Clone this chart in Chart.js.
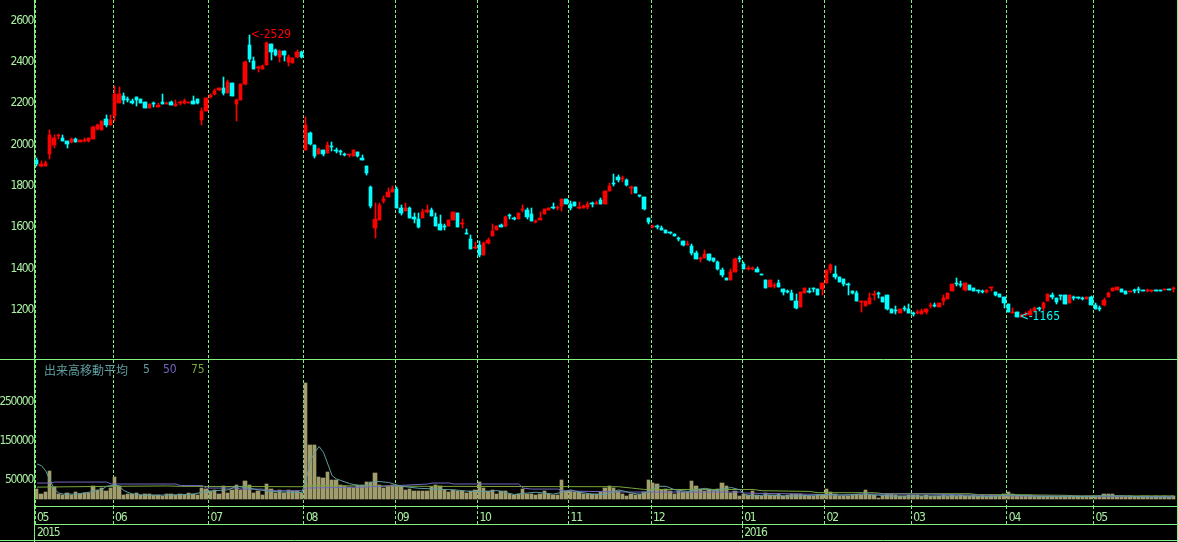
<!DOCTYPE html>
<html>
<head>
<meta charset="utf-8">
<script src="https://cdn.jsdelivr.net/npm/chart.js@4.4.0/dist/chart.umd.min.js"></script>
<style>
  html, body { margin: 0; padding: 0; background: #000; }
  #wrap { width: 1178px; height: 542px; }
</style>
</head>
<body>
<div id="wrap"><canvas id="kabuka" width="1178" height="542"></canvas></div>
<script>
// values (daily candles, May 2015 - May 2016)
const monthLabels = ['05', '06', '07', '08', '09', '10', '11', '12', '01', '02', '03', '04', '05'];
const monthStart = [0, 18, 40, 62, 83, 102, 123, 142, 163, 182, 202, 224, 244];
const yearLabels = ['2015', '2016'];
const yearStart = [0, 163];
const priceTicks = [1200, 1400, 1600, 1800, 2000, 2200, 2400, 2600];
const volumeTicks = [50000, 150000, 250000];
const maPeriods = [5, 50, 75];

const open = [
  1926,1898,1897,1955,1998,2040,2034,2018,2011,2029,2014,2016,2016,2029,2074,2072,2124,2095,
  2140,2203,2236,2222,2213,2231,2221,2206,2179,2197,2184,2206,2198,2206,2189,2200,2200,2201,2213,2221,2119,2165,
  2230,2245,2264,2274,2248,2298,2198,2216,2294,2481,2406,2370,2366,2385,2487,2458,2424,2453,2398,2397,2422,2450,
  1974,2058,1999,1955,1974,1961,1995,1972,1966,1950,1948,1947,1963,1935,1897,1797,1599,1637,1726,1747,1771,
  1786,1695,1679,1694,1648,1640,1647,1673,1684,1650,1616,1605,1606,1636,1669,1616,1571,1542,1500,
  1515,1466,1523,1558,1587,1611,1606,1655,1644,1640,1682,1682,1665,1627,1637,1665,1686,1694,1692,1703,1737,
  1713,1724,1693,1692,1698,1713,1711,1734,1714,1776,1813,1845,1834,1829,1788,1795,1752,1747,1645,
  1603,1605,1598,1587,1574,1568,1545,1534,1517,1510,1474,1447,1452,1469,1452,1432,1394,1355,1347,1386,1447,
  1421,1397,1398,1398,1374,1345,1311,1315,1331,1300,1289,1281,1244,1215,1284,1287,1305,1302,1300,
  1332,1394,1374,1361,1348,1323,1292,1284,1239,1219,1227,1271,1281,1261,1273,1205,1199,1187,1206,1203,
  1182,1184,1182,1192,1220,1222,1215,1245,1253,1294,1330,1324,1297,1321,1308,1293,1290,1289,1305,1286,1277,1264,
  1229,1185,1192,1168,1175,1176,1197,1206,1211,1243,1274,1258,1272,1272,1235,1261,1258,1256,1253,1263,
  1222,1209,1224,1261,1294,1297,1300,1290,1287,1293,1297,1294,1291,1293,1295,1296,1297,1301,1300
];
const high = [
  1935,1922,1922,2071,2047,2050,2047,2018,2031,2034,2024,2034,2034,2090,2098,2114,2143,2142,
  2284,2277,2250,2230,2219,2231,2221,2206,2197,2206,2200,2245,2206,2211,2218,2211,2219,2208,2235,2221,2177,2226,
  2247,2268,2274,2327,2313,2298,2219,2294,2406,2529,2426,2380,2387,2495,2487,2465,2460,2453,2434,2421,2460,2453,
  2136,2061,1999,1984,1974,2011,2013,1982,1973,1961,1951,1974,1966,1948,1897,1800,1718,1718,1752,1790,1800,
  1794,1708,1718,1697,1668,1671,1690,1708,1694,1669,1660,1616,1636,1674,1669,1639,1592,1563,1527,
  1532,1527,1550,1616,1606,1616,1653,1665,1652,1669,1708,1694,1694,1636,1674,1689,1695,1716,1703,1735,1737,
  1726,1724,1724,1710,1721,1724,1727,1743,1776,1815,1858,1853,1848,1832,1800,1795,1756,1747,1645,
  1611,1611,1606,1587,1579,1568,1553,1534,1534,1519,1484,1458,1490,1469,1452,1437,1402,1355,1398,1450,1461,
  1434,1413,1410,1406,1374,1345,1345,1329,1345,1300,1297,1297,1276,1289,1305,1305,1305,1302,1331,
  1394,1423,1413,1361,1352,1331,1292,1292,1244,1244,1282,1292,1286,1261,1273,1205,1219,1205,1219,1229,
  1192,1200,1203,1205,1232,1232,1232,1273,1284,1326,1355,1340,1329,1321,1308,1297,1297,1297,1313,1286,1277,1264,
  1229,1208,1192,1183,1190,1203,1216,1216,1240,1277,1284,1258,1272,1274,1272,1269,1261,1262,1262,1266,
  1232,1219,1256,1287,1308,1310,1303,1290,1292,1300,1310,1297,1302,1298,1297,1297,1300,1302,1310
];
const low = [
  1897,1893,1897,1931,1985,2027,2018,1985,2008,2011,2014,2014,2014,2029,2073,2072,2085,2095,
  2116,2203,2195,2208,2195,2189,2203,2179,2179,2184,2184,2198,2198,2194,2189,2190,2197,2201,2198,2197,2095,2165,
  2226,2239,2258,2240,2248,2235,2116,2216,2289,2401,2366,2353,2366,2385,2410,2429,2402,2405,2382,2397,2421,2418,
  1974,1999,1937,1955,1945,1958,1969,1958,1950,1947,1939,1947,1939,1927,1855,1695,1550,1637,1716,1747,1771,
  1695,1660,1679,1647,1623,1595,1647,1668,1656,1606,1589,1589,1606,1636,1602,1597,1569,1497,1497,
  1455,1466,1518,1558,1585,1602,1603,1642,1636,1640,1674,1639,1631,1623,1637,1665,1686,1689,1684,1681,1713,
  1684,1703,1690,1692,1689,1700,1711,1714,1714,1776,1800,1821,1821,1800,1760,1766,1747,1684,1616,
  1597,1593,1589,1571,1568,1560,1535,1510,1515,1466,1448,1434,1452,1439,1434,1394,1358,1347,1347,1384,1434,
  1398,1394,1394,1386,1371,1308,1311,1308,1311,1273,1281,1250,1206,1215,1284,1281,1285,1274,1273,
  1332,1381,1348,1337,1316,1274,1276,1244,1192,1219,1227,1248,1258,1240,1200,1187,1179,1187,1197,1187,
  1171,1182,1182,1182,1208,1216,1215,1224,1253,1294,1318,1313,1294,1297,1292,1284,1281,1282,1293,1266,1261,1208,
  1192,1184,1165,1166,1170,1176,1197,1197,1197,1243,1253,1227,1248,1231,1235,1248,1253,1250,1252,1226,
  1203,1197,1219,1261,1292,1297,1289,1279,1287,1281,1284,1290,1285,1289,1292,1292,1297,1298,1289
];
const close = [
  1906,1905,1913,2047,2034,2043,2018,2003,2026,2013,2022,2021,2032,2085,2093,2114,2097,2119,
  2247,2245,2216,2216,2200,2218,2203,2179,2197,2195,2194,2198,2203,2194,2198,2203,2211,2208,2198,2202,2165,2226,
  2240,2261,2274,2252,2305,2235,2216,2294,2400,2416,2366,2374,2382,2492,2450,2434,2453,2434,2426,2421,2448,2422,
  2095,2002,1945,1978,1955,1999,1990,1969,1963,1948,1951,1974,1947,1927,1865,1703,1640,1708,1735,1771,1784,
  1695,1668,1695,1647,1639,1603,1674,1684,1656,1606,1589,1603,1636,1674,1602,1619,1569,1497,1503,
  1466,1524,1540,1582,1606,1602,1650,1653,1642,1669,1684,1650,1631,1630,1647,1689,1695,1692,1695,1735,1713,
  1695,1703,1695,1703,1714,1711,1718,1714,1776,1800,1810,1829,1837,1806,1792,1766,1750,1689,1624,
  1606,1603,1589,1574,1572,1560,1543,1515,1519,1477,1448,1450,1471,1444,1437,1398,1369,1347,1384,1447,1445,
  1398,1399,1400,1386,1371,1308,1345,1318,1311,1289,1287,1250,1211,1285,1305,1285,1303,1274,1331,
  1394,1418,1361,1337,1327,1321,1284,1244,1244,1244,1258,1273,1279,1240,1205,1187,1197,1205,1204,1187,
  1180,1187,1197,1205,1222,1220,1232,1256,1284,1326,1328,1322,1329,1297,1292,1291,1288,1297,1307,1274,1261,1232,
  1192,1187,1165,1178,1180,1197,1211,1204,1235,1277,1261,1240,1270,1231,1272,1259,1256,1254,1261,1226,
  1203,1207,1248,1284,1308,1310,1289,1279,1292,1291,1295,1292,1294,1294,1293,1294,1300,1299,1303
];
const volume = [
  26000,14000,19000,73000,31000,14000,12000,17000,11000,19000,14000,16000,17000,33000,24000,30000,20000,30000,
  58000,33000,11000,14000,13000,16000,10000,14000,13000,11000,11000,9000,13000,14000,11000,14000,11000,17000,14000,11000,29000,26000,
  21000,24000,14000,33000,16000,24000,36000,24000,47000,36000,17000,21000,10000,40000,25000,17000,24000,17000,24000,21000,21000,16000,
  298000,138000,138000,58000,54000,70000,50000,48000,37000,33000,32000,29000,37000,37000,45000,45000,67000,37000,29000,33000,37000,
  35000,33000,24000,26000,22000,20000,20000,20000,31000,37000,35000,24000,18000,24000,20000,20000,16000,20000,24000,
  45000,28000,20000,23000,13000,20000,20000,13000,11000,14000,26000,14000,14000,12000,14000,22000,14000,11000,11000,50000,20000,
  20000,18000,18000,14000,14000,14000,14000,18000,28000,35000,28000,20000,14000,9000,14000,11000,14000,18000,50000,
  41000,39000,23000,26000,20000,14000,20000,18000,18000,47000,33000,26000,20000,26000,20000,26000,41000,35000,16000,20000,9000,
  14000,11000,20000,11000,8000,16000,11000,11000,14000,8000,11000,14000,14000,14000,11000,8000,8000,11000,12000,
  26000,18000,14000,9000,8000,8000,11000,11000,11000,23000,11000,11000,4000,11000,14000,14000,11000,8000,8000,11000,
  11000,11000,8000,11000,8000,8000,8000,11000,8000,11000,8000,11000,8000,8000,11000,8000,11000,8000,11000,11000,8000,14000,
  19000,14000,11000,11000,11000,11000,8000,8000,8000,8000,8000,5000,8000,8000,8000,5000,8000,5000,8000,8000,
  8000,8000,14000,14000,14000,8000,8000,5000,8000,5000,5000,8000,8000,5000,8000,5000,8000,5000,8000
];

// moving average lines, read at these candle positions
const ma5Day = [0,1,2,3,4,5,6,9,12,15,16,18,19,20,22,25,32,36,38,41,44,46,48,51,54,58,61,62,63,64,65,66,67,68,69,70,72,75,78,81,84,88,96,100,104,106,110,113,115,119,121,123,125,128,131,133,134,137,139,141,143,145,147,150,152,154,156,159,160,162,163,165,168,173,177,180,183,186,190,193,197,205,213,220,224,232,243,246,251,255,262];
const ma5 = [90000,86000,72000,48000,25000,16000,13000,13000,18000,25000,33000,37000,33000,22000,13000,10000,11000,13000,18000,22000,24000,33000,30000,24000,20000,18000,17000,50000,100000,120000,135000,120000,90000,60000,52000,48000,40000,33000,46000,43000,33000,28000,24000,20000,20000,22000,12000,16000,18000,13000,18000,24000,18000,13000,12000,20000,24000,16000,12000,20000,33000,33000,24000,20000,24000,28000,22000,28000,30000,24000,12000,8000,11000,8000,9000,11000,12000,10000,13000,11000,8000,8000,9000,7000,11000,7000,7000,9000,8000,6000,6000];
const ma50Day = [0,3,4,16,17,32,33,38,39,46,47,52,53,61,62,75,83,90,91,95,96,111,112,114,120,121,127,136,162,163,175,185,190,205,220,225,245,262];
const ma50 = [41500,41500,44000,44000,39000,39000,35000,35000,28600,28600,26000,26000,21800,21800,28600,31000,35000,39000,41500,41500,39000,39000,28600,26000,26000,21800,20000,18400,18400,15800,13500,11000,13200,13200,9800,8500,7300,6000];
const ma75Day = [0,17,30,33,61,62,90,134,137,140,165,167,178,180,193,195,215,217,225,237,240,262];
const ma75 = [31000,33000,34000,33000,32000,35000,33000,32000,28600,25000,25000,21800,20000,16700,16700,14100,14100,11500,11500,10000,8500,8500];

const LINE = '#80f080';
const TEXT = '#a8f0a0';
const UP = '#ff0000';
const DOWN = '#00ffff';
const VOL = '#a19d6d';
const MA_COLORS = ['#5f9ea0', '#7068c0', '#78a83c'];
const FONT = '"Liberation Sans Narrow", "DejaVu Sans Condensed", sans-serif';
const DIGIT_W = 5.6;   // digit width of the narrow screen font in the picture

function candleColor(ctx) {
    const i = ctx.dataIndex;
    return close[i] >= open[i] ? UP : DOWN;
}

function maPoints(days, vals) {
    return days.map((d, k) => ({ x: d + 0.5, y: vals[k] }));
}

// "<-" arrow at normal spacing, the number squeezed like the axis digits
function marker(ctx, value, x, y, color) {
    const squeeze = ctx.letterSpacing;
    ctx.fillStyle = color;
    ctx.letterSpacing = '0px';
    ctx.fillText('<-', x, y);
    const w = ctx.measureText('<-').width;
    ctx.letterSpacing = squeeze;
    ctx.fillText(String(value), x + w, y);
}

// snap bars to whole pixels, and draw frame, labels and markers
const framePlugin = {
    id: 'frame',
    afterDatasetsUpdate(chart) {
        const xs = chart.scales.x;
        chart.data.datasets.forEach((ds, k) => {
            if (ds.type === 'line') return;
            chart.getDatasetMeta(k).data.forEach((bar, i) => {
                const l = Math.round(xs.getPixelForValue(i));
                const r = Math.round(xs.getPixelForValue(i + 1)) - 1;
                if (ds.wick) {
                    bar.x = l + Math.floor((r - l) / 2) + 0.5;
                    bar.width = 1;
                } else {
                    bar.x = (l + r) / 2;
                    bar.width = r - l;
                }
                bar.y = Math.round(bar.y);
                bar.base = Math.round(bar.base);
                if (bar.y === bar.base) bar.base = bar.y + 1;
            });
        });
    },
    beforeDraw(chart) {
        // squeeze the digits down to the narrow width of the original
        const ctx = chart.ctx;
        ctx.font = '12px ' + FONT;
        const w = ctx.measureText('0000000000').width / 10;
        ctx.letterSpacing = (DIGIT_W - w).toFixed(2) + 'px';
    },
    afterDraw(chart) {
        const ctx = chart.ctx;
        const area = chart.chartArea;
        const xs = chart.scales.x, yp = chart.scales.y, yv = chart.scales.yv;
        const W = chart.width, H = chart.height;
        ctx.save();
        ctx.strokeStyle = LINE;
        ctx.lineWidth = 1;
        ctx.beginPath();
        ctx.moveTo(area.left - 0.5, 0); ctx.lineTo(area.left - 0.5, H);
        ctx.moveTo(W - 0.5, 0); ctx.lineTo(W - 0.5, H);
        ctx.moveTo(0, yv.top + 0.5); ctx.lineTo(W, yv.top + 0.5);
        ctx.moveTo(area.left - 1, area.bottom + 0.5); ctx.lineTo(W, area.bottom + 0.5);
        ctx.moveTo(area.left - 1, area.bottom + 18.5); ctx.lineTo(W, area.bottom + 18.5);
        ctx.moveTo(0, H - 1.5); ctx.lineTo(W, H - 1.5);
        ctx.stroke();

        ctx.setLineDash([3, 2]);
        ctx.beginPath();
        yearStart.forEach(d => {
            if (!d) return;
            const x = Math.round(xs.getPixelForValue(d) - 0.5) + 0.5;
            ctx.moveTo(x, area.bottom + 19); ctx.lineTo(x, H - 2);
        });
        ctx.stroke();
        ctx.setLineDash([]);

        ctx.font = '12px ' + FONT;
        ctx.textBaseline = 'middle';
        ctx.textAlign = 'left';
        const hi = high.indexOf(Math.max(...high));
        const lo = low.indexOf(Math.min(...low));
        marker(ctx, high[hi], xs.getPixelForValue(hi + 0.5) + 1, yp.getPixelForValue(high[hi]), UP);
        marker(ctx, low[lo], xs.getPixelForValue(lo + 0.5) + 2, yp.getPixelForValue(low[lo]), DOWN);

        const ly = yv.top + 11;
        const lx = [108, 128, 156];
        maPeriods.forEach((p, k) => {
            ctx.fillStyle = MA_COLORS[k];
            ctx.fillText(String(p), area.left + lx[k], ly);
        });
        ctx.letterSpacing = '0px';
        ctx.font = '12px "Noto Sans CJK JP"';
        ctx.fillStyle = MA_COLORS[0];
        ctx.fillText('出来高移動平均', area.left + 9, ly);
        ctx.restore();
    }
};

function drawChart() {
    const wicks = low.map((l, i) => ({ x: i + 0.5, y: [l, high[i]] }));
    const bodies = open.map((o, i) => ({ x: i + 0.5, y: [o, close[i]] }));
    const vols = volume.map((v, i) => ({ x: i + 0.5, y: v }));

    const chartdata = {
        datasets: [
            { type: 'bar', wick: true, data: wicks, yAxisID: 'y', backgroundColor: candleColor,
              barThickness: 1, grouped: false, borderWidth: 0, order: 2 },
            { type: 'bar', data: bodies, yAxisID: 'y', backgroundColor: candleColor,
              barThickness: 3, grouped: false, borderWidth: 0, minBarLength: 1, order: 1 },
            { type: 'bar', data: vols, yAxisID: 'yv', backgroundColor: VOL,
              barThickness: 3, grouped: false, borderWidth: 0, order: 4 },
            { type: 'line', data: maPoints(ma5Day, ma5), yAxisID: 'yv', borderColor: MA_COLORS[0],
              borderWidth: 1, pointRadius: 0, tension: 0, order: 0 },
            { type: 'line', data: maPoints(ma50Day, ma50), yAxisID: 'yv', borderColor: MA_COLORS[1],
              borderWidth: 1, pointRadius: 0, tension: 0, order: 0 },
            { type: 'line', data: maPoints(ma75Day, ma75), yAxisID: 'yv', borderColor: MA_COLORS[2],
              borderWidth: 1, pointRadius: 0, tension: 0, order: 0 }
        ]
    };

    const graphTarget = document.getElementById('kabuka');

    let chart = new Chart(graphTarget, {
        type: 'bar',
        data: chartdata,
        plugins: [framePlugin],
        options: {
            responsive: false,
            devicePixelRatio: 1,
            animation: false,
            events: [],
            layout: { padding: { left: 0, right: 2, top: 0, bottom: 0 } },
            plugins: { legend: { display: false }, tooltip: { enabled: false } },
            scales: {
                x: {
                    type: 'linear', min: 0, max: open.length, offset: false,
                    afterBuildTicks: s => { s.ticks = monthStart.map(v => ({ value: v })); },
                    afterFit: s => { s.height = 36; s.paddingLeft = 0; s.paddingRight = 0; },
                    grid: { color: LINE, offset: false, drawTicks: true, tickLength: 18,
                            tickColor: LINE, tickBorderDash: [3, 2] },
                    border: { display: false, dash: [3, 2] },
                    ticks: {
                        color: TEXT, align: 'start', labelOffset: 2, padding: -14,
                        maxRotation: 0, autoSkip: false,
                        font: { family: FONT, size: 12, lineHeight: 1.25 },
                        callback: v => {
                            const y = yearStart.indexOf(v);
                            return [monthLabels[monthStart.indexOf(v)], y >= 0 ? yearLabels[y] : ''];
                        }
                    }
                },
                y: {
                    position: 'left', stack: 'panes', stackWeight: 359, weight: 1,
                    min: 963, max: 2700,
                    afterBuildTicks: s => { s.ticks = priceTicks.map(v => ({ value: v })); },
                    afterFit: s => { s.width = 35; s.paddingTop = 0; s.paddingBottom = 0; },
                    grid: { display: false, drawTicks: false },
                    border: { display: false },
                    ticks: { color: TEXT, padding: 2, font: { family: FONT, size: 12 }, callback: v => String(v) }
                },
                yv: {
                    position: 'left', stack: 'panes', stackWeight: 147, weight: 0,
                    min: -17400, max: 359500,
                    afterBuildTicks: s => { s.ticks = volumeTicks.map(v => ({ value: v })); },
                    afterFit: s => { s.width = 35; s.paddingTop = 0; s.paddingBottom = 0; },
                    grid: { display: false, drawTicks: false },
                    border: { display: false },
                    ticks: { color: TEXT, padding: 2, font: { family: FONT, size: 12 }, callback: v => String(v) }
                }
            }
        }
    });
}

drawChart();
</script>
</body>
</html>
